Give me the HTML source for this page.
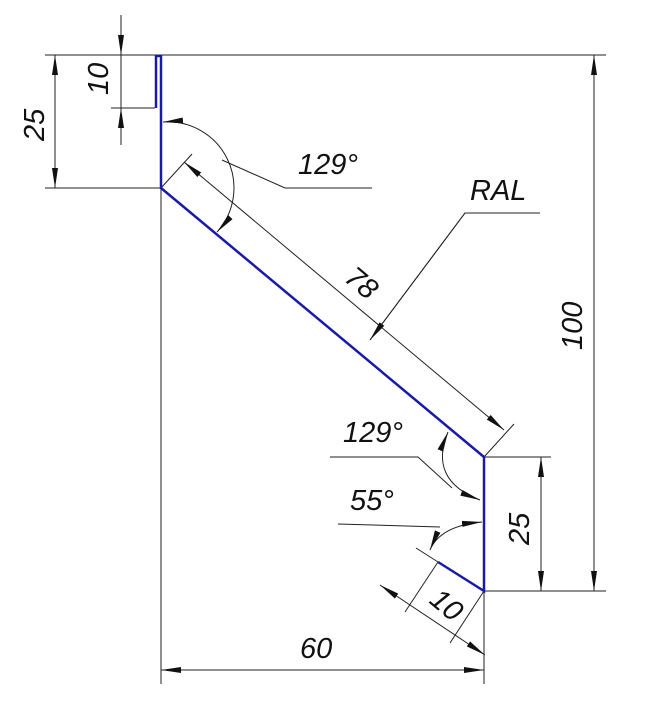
<!DOCTYPE html>
<html><head><meta charset="utf-8"><style>
html,body{margin:0;padding:0;background:#fff;width:650px;height:701px;overflow:hidden}
text{font-family:"Liberation Sans",sans-serif;font-style:italic;fill:#111;font-weight:300}
</style></head><body>
<svg width="650" height="701" viewBox="0 0 650 701" xmlns="http://www.w3.org/2000/svg">
<defs>
<marker id="a" viewBox="0 0 20 8" refX="20" refY="4" markerWidth="20" markerHeight="8" markerUnits="userSpaceOnUse" orient="auto-start-reverse"><path d="M0,1 L20,4 L0,7 Z" fill="#111"/></marker>
</defs>
<g stroke="#222" stroke-width="1" fill="none">
<line x1="45" y1="55" x2="606" y2="55"/>
<line x1="45" y1="188" x2="161" y2="188"/>
<line x1="111" y1="108" x2="155" y2="108"/>
<line x1="484" y1="591" x2="606" y2="591"/>
<line x1="484" y1="457" x2="551" y2="457"/>
<line x1="161" y1="188" x2="161" y2="684"/>
<line x1="484" y1="591" x2="484" y2="684"/>
<line x1="55" y1="55" x2="55" y2="188" marker-start="url(#a)" marker-end="url(#a)"/>
<line x1="121" y1="15" x2="121" y2="55" marker-end="url(#a)"/>
<line x1="121" y1="55" x2="121" y2="108"/>
<line x1="121" y1="145" x2="121" y2="108" marker-end="url(#a)"/>
<line x1="594" y1="55" x2="594" y2="591" marker-start="url(#a)" marker-end="url(#a)"/>
<line x1="541" y1="457" x2="541" y2="591" marker-start="url(#a)" marker-end="url(#a)"/>
<line x1="161" y1="670" x2="484" y2="670" marker-start="url(#a)" marker-end="url(#a)"/>
<line x1="161" y1="188" x2="192" y2="154"/>
<line x1="484" y1="457" x2="514" y2="424"/>
<line x1="184" y1="162" x2="504" y2="430" marker-start="url(#a)" marker-end="url(#a)"/>
<polyline points="540,213 465,213 370,340" />
<line x1="465" y1="213" x2="370" y2="340" marker-end="url(#a)"/>
<path d="M163,122 A66,66 0 0 1 217,232" marker-start="url(#a)" marker-end="url(#a)"/>
<polyline points="222,160 285,188 372,188"/>
<path d="M448,432 Q428,480 480,500" marker-start="url(#a)" marker-end="url(#a)"/>
<polyline points="330,457 418,457 452,488"/>
<polyline points="338,524 440,527"/>
<path d="M430,550 Q440,526 482,522" marker-start="url(#a)" marker-end="url(#a)"/>
<line x1="416" y1="548" x2="438" y2="562"/>
<line x1="438" y1="562" x2="405" y2="612"/>
<line x1="484" y1="591" x2="450" y2="643"/>
<line x1="380" y1="585" x2="485" y2="655" marker-start="url(#a)" marker-end="url(#a)"/>
</g>
<g stroke="#1a1aa8" stroke-width="2.5" fill="none">
<polyline points="156,108 156,56 161,56 161,188 484,457 484,591 438,562"/>
</g>
<g font-size="29">
<text transform="translate(44,141) rotate(-90)">25</text>
<text transform="translate(108,95) rotate(-90)">10</text>
<text x="298" y="174">129°</text>
<text x="470" y="200">RAL</text>
<text transform="translate(343,280) rotate(40)">78</text>
<text transform="translate(582,350) rotate(-90)">100</text>
<text x="343" y="442">129°</text>
<text x="350" y="510">55°</text>
<text transform="translate(529,545) rotate(-90)">25</text>
<text transform="translate(428,602) rotate(40)">10</text>
<text x="300" y="658">60</text>
</g>
</svg>
</body></html>
